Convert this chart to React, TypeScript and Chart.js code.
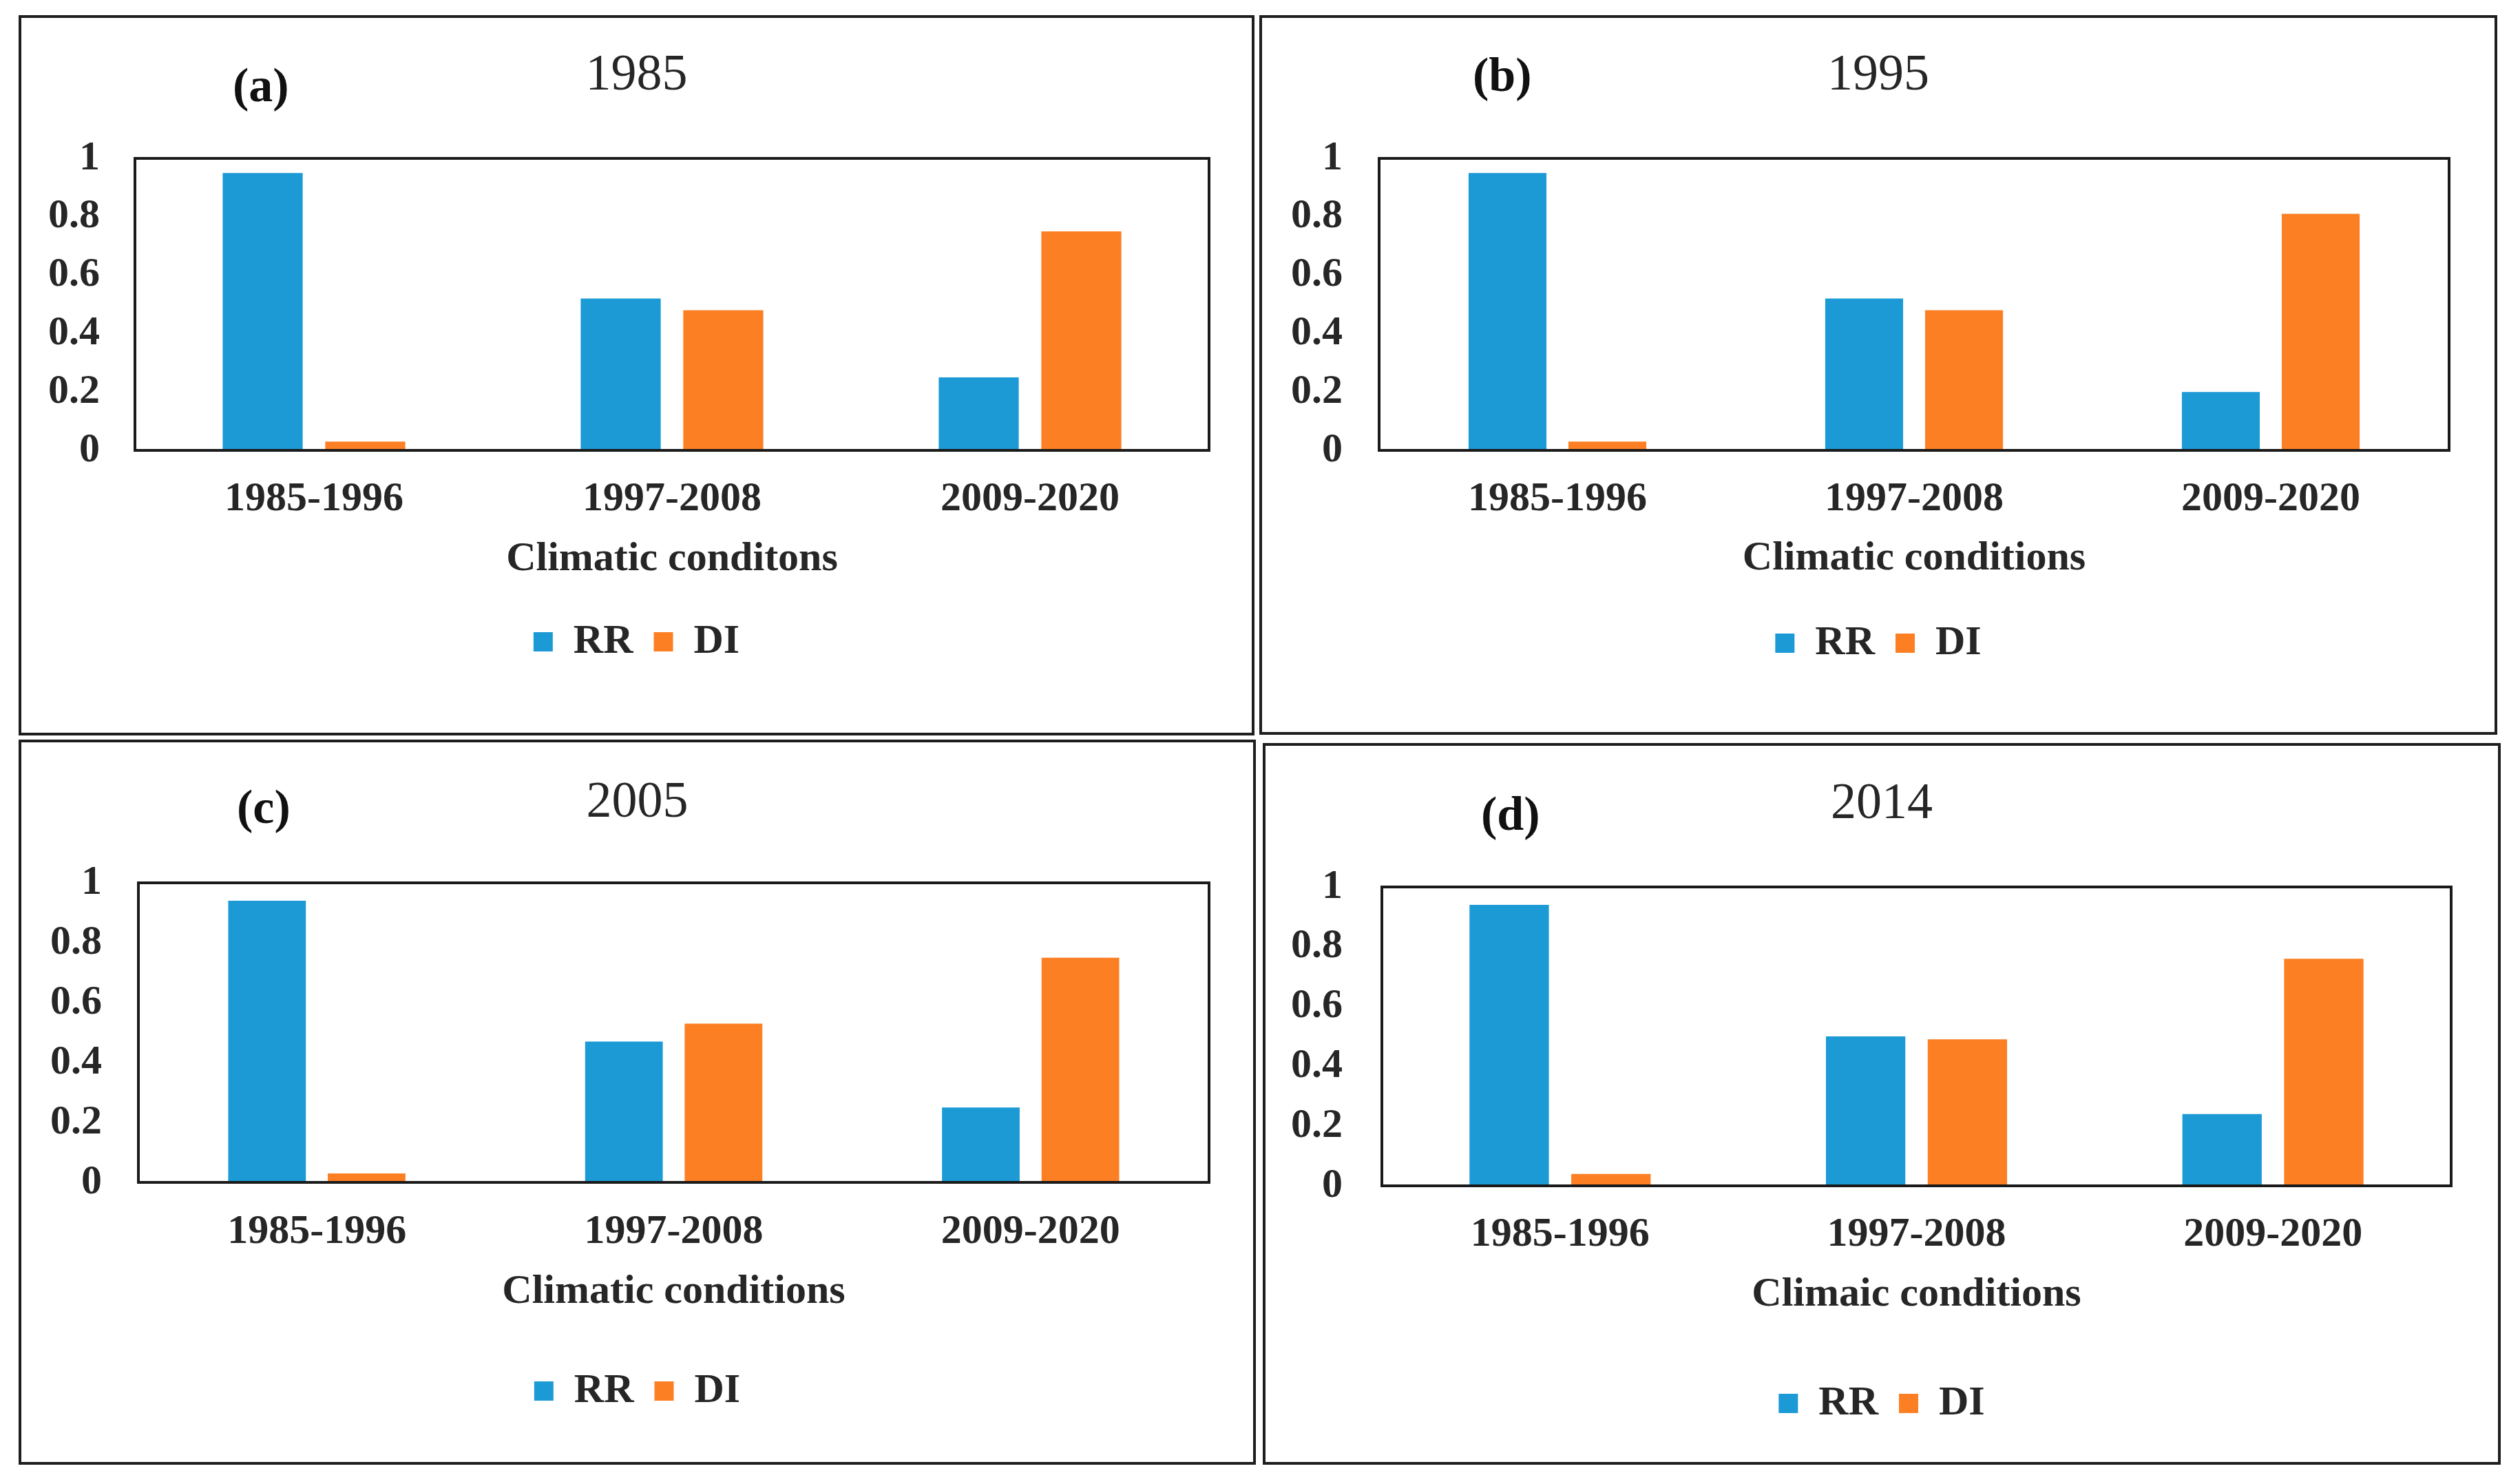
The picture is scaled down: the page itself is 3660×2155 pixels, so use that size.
import React, { useEffect, useRef } from 'react';
import { Chart, registerables } from 'chart.js';

Chart.register(...registerables);

// ---------- data ----------
const categories = ['1985-1996', '1997-2008', '2009-2020'];
const seriesNames = ['RR', 'DI'];
const rr1985 = [0.95, 0.52, 0.25];
const di1985 = [0.03, 0.48, 0.75];
const rr1995 = [0.95, 0.52, 0.2];
const di1995 = [0.03, 0.48, 0.81];
const rr2005 = [0.94, 0.47, 0.25];
const di2005 = [0.03, 0.53, 0.75];
const rr2014 = [0.94, 0.5, 0.24];
const di2014 = [0.04, 0.49, 0.76];
const yTickValues = [0, 0.2, 0.4, 0.6, 0.8, 1];
const panelLetters = ['(a)', '(b)', '(c)', '(d)'];
const panelYears = ['1985', '1995', '2005', '2014'];
const axisTitles = ['Climatic conditons', 'Climatic conditions', 'Climatic conditions', 'Climaic conditions'];
const rrSeries = [rr1985, rr1995, rr2005, rr2014];
const diSeries = [di1985, di1995, di2005, di2014];

// ---------- styling / layout ----------
const FONT = '"Liberation Serif", "Times New Roman", serif';
const TEXT = '#262626';
const BLUE = '#1C9AD6';
const ORANGE = '#FD7F23';
const BORDER = 4;

type Layout = {
  x0: number; y0: number; x1: number; y1: number;
  rightGap: number; padBottom: number;
  titleTop: number; titleBottom: number;
  yWidth: number; yPad: number;
  xHeight: number; xPad: number; xTitleBottom: number;
  cat: number;
  letterX: number; letterCY: number;
};

const layouts: Layout[] = [
  { x0: 27, y0: 22, x1: 1822, y1: 1068, rightGap: 62, padBottom: 92,
    titleTop: 40.6, titleBottom: 74.6, yWidth: 165, yPad: 51, xHeight: 218, xPad: 35, xTitleBottom: 24,
    cat: 0.573, letterX: 338, letterCY: 124 },
  { x0: 1829, y0: 22, x1: 3627, y1: 1067, rightGap: 66, padBottom: 89,
    titleTop: 40.6, titleBottom: 74.6, yWidth: 170, yPad: 53, xHeight: 220, xPad: 35, xTitleBottom: 27,
    cat: 0.56, letterX: 2139, letterCY: 109 },
  { x0: 27, y0: 1074, x1: 1824, y1: 2127, rightGap: 64, padBottom: 63,
    titleTop: 44.6, titleBottom: 70.6, yWidth: 170, yPad: 53, xHeight: 243, xPad: 36, xTitleBottom: 48,
    cat: 0.558, letterX: 344, letterCY: 1172 },
  { x0: 1834, y0: 1079, x1: 3632, y1: 2127, rightGap: 68, padBottom: 45,
    titleTop: 41.6, titleBottom: 74.6, yWidth: 169, yPad: 57, xHeight: 256, xPad: 35, xTitleBottom: 62,
    cat: 0.571, letterX: 2151, letterCY: 1182 },
];

const framePlugin = {
  id: 'plotFrame',
  afterDatasetsDraw(chart: any) {
    const { ctx, chartArea: a } = chart;
    ctx.save();
    ctx.strokeStyle = '#1a1a1a';
    ctx.lineWidth = 4;
    ctx.strokeRect(a.left, a.top, a.right - a.left, a.bottom - a.top);
    ctx.restore();
  },
};

function Panel({ index }: { index: number }) {
  const ref = useRef<HTMLCanvasElement | null>(null);
  const L = layouts[index];
  const w = L.x1 - L.x0 - 2 * BORDER;
  const h = L.y1 - L.y0 - 2 * BORDER;

  useEffect(() => {
    if (!ref.current) return;
    const chart = new Chart(ref.current, {
      type: 'bar',
      data: {
        labels: categories,
        datasets: [
          { label: seriesNames[0], data: rrSeries[index], backgroundColor: BLUE, borderWidth: 0,
            categoryPercentage: L.cat, barPercentage: 0.78, yAxisID: 'y' },
          { label: seriesNames[1], data: diSeries[index], backgroundColor: ORANGE, borderWidth: 0,
            categoryPercentage: L.cat, barPercentage: 0.78, yAxisID: 'y' },
        ],
      },
      options: {
        responsive: false,
        animation: false,
        devicePixelRatio: 1,
        layout: { padding: { left: 0, right: 0, top: 0, bottom: L.padBottom } },
        plugins: {
          title: {
            display: true,
            text: panelYears[index],
            color: TEXT,
            font: { family: FONT, size: 74, weight: 'normal', lineHeight: 1.2 },
            padding: { top: L.titleTop, bottom: L.titleBottom },
          },
          legend: {
            display: true,
            position: 'bottom',
            labels: {
              color: TEXT,
              boxWidth: 28,
              boxHeight: 28,
              padding: 30,
              font: { family: FONT, size: 60, weight: 'bold' },
            },
          },
          tooltip: { enabled: false },
        },
        scales: {
          x: {
            grid: { display: false, drawTicks: false },
            border: { display: false },
            ticks: { color: TEXT, padding: L.xPad, font: { family: FONT, size: 60, weight: 'bold', lineHeight: 1.2 } },
            title: {
              display: true,
              text: axisTitles[index],
              color: TEXT,
              font: { family: FONT, size: 60, weight: 'bold', lineHeight: 1.2 },
              padding: { top: 0, bottom: L.xTitleBottom },
            },
            afterFit: (s: any) => { s.height = L.xHeight; },
          },
          y: {
            position: 'left',
            min: yTickValues[0],
            max: yTickValues[yTickValues.length - 1],
            grid: { display: false, drawTicks: false },
            border: { display: false },
            afterBuildTicks: (s: any) => { s.ticks = yTickValues.map((v) => ({ value: v })); },
            ticks: {
              color: TEXT,
              padding: L.yPad,
              font: { family: FONT, size: 60, weight: 'bold' },
              callback: (v: any) => String(Math.round(Number(v) * 10) / 10),
            },
            afterFit: (s: any) => { s.width = L.yWidth; },
          },
          yRightSpacer: {
            type: 'linear',
            position: 'right',
            display: true,
            grid: { display: false, drawTicks: false },
            border: { display: false },
            ticks: { display: false },
            afterFit: (s: any) => { s.width = L.rightGap; },
          },
        },
      },
      plugins: [framePlugin],
    } as any);
    return () => chart.destroy();
  }, [index]);

  return (
    <>
      <div
        style={{
          position: 'absolute',
          left: L.x0,
          top: L.y0,
          width: L.x1 - L.x0,
          height: L.y1 - L.y0,
          boxSizing: 'border-box',
          border: `${BORDER}px solid #1e1e1e`,
          background: '#fff',
        }}
      >
        <canvas ref={ref} width={w} height={h} style={{ display: 'block', width: w, height: h }} />
      </div>
      <div
        style={{
          position: 'absolute',
          left: L.letterX,
          top: L.letterCY - 40,
          height: 80,
          lineHeight: '80px',
          fontFamily: FONT,
          fontWeight: 'bold',
          fontSize: 70,
          color: '#111',
          whiteSpace: 'nowrap',
        }}
      >
        {panelLetters[index]}
      </div>
    </>
  );
}

export default function App() {
  return (
    <div style={{ position: 'absolute', left: 0, top: 0, width: 3660, height: 2155, background: '#fff' }}>
      {[0, 1, 2, 3].map((i) => (
        <Panel key={i} index={i} />
      ))}
    </div>
  );
}
